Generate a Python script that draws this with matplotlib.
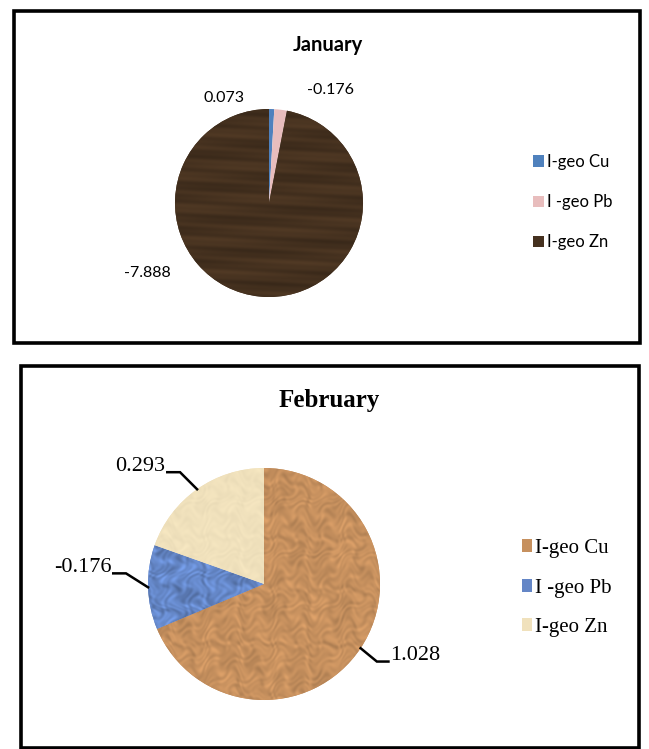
import numpy as np
import matplotlib.pyplot as plt
from matplotlib.colors import to_rgb
from matplotlib.patches import Rectangle

W, H = 649, 749

metals = ["I-geo Cu", "I -geo Pb", "I-geo Zn"]
jan_vals = [0.073, -0.176, -7.888]
feb_vals = [1.028, -0.176, 0.293]

jan_colors = ["#4F81BD", "#E8BDBD", "#45311F"]
feb_colors = ["#C6905E", "#6486C6", "#F0E1BC"]


def px_axes(fig, cx, cy, r):
    # square axes whose [-1,1] box sits on the pie circle (pixel coords from top-left)
    return fig.add_axes([(cx - r) / W, 1 - (cy + r) / H, 2 * r / W, 2 * r / H])


# simple fill textures (grain / mottle), laid over a wedge and clipped to it
yy, xx = np.mgrid[-1:1:300j, -1:1:300j]
grain = (0.5 * np.sin(38 * (yy + 0.08 * xx)) + 0.3 * np.sin(91 * (yy + 0.05 * xx) + 1.3)
         + 0.4 * np.sin(17 * (yy - 0.12 * xx) + 0.7))
wx = xx + 0.08 * np.sin(13.1 * yy + 0.4) + 0.05 * np.sin(27.7 * yy + 1.9)
wy = yy + 0.07 * np.sin(11.3 * xx + 2.2) + 0.05 * np.sin(31.9 * xx + 0.3)
mottle = (np.sin(37.3 * wx) * np.sin(41.9 * wy) + 0.7 * np.sin(23.1 * wx + 19.7 * wy + 1.1)
          + 0.5 * np.sin(61.7 * wx - 53.3 * wy + 0.6) + 0.4 * np.sin(89.3 * wy + 3.7 * np.sin(7 * wx)))


def texture(ax, wedge, color, pat, amp):
    base = np.array(to_rgb(color))
    img = np.clip(base[None, None, :] * (1 + amp * pat[..., None] / np.abs(pat).max()), 0, 1)
    im = ax.imshow(img, extent=(-1, 1, -1, 1), origin="lower", interpolation="bilinear",
                   zorder=wedge.get_zorder() + 0.1)
    im.set_clip_path(wedge)


fig = plt.figure(figsize=(W / 100, H / 100), dpi=100)

# panel frames
fig.patches.append(Rectangle((14 / W, 1 - 343 / H), 626 / W, 332 / H, transform=fig.transFigure,
                             fill=False, lw=2.6, ec="black"))
fig.patches.append(Rectangle((21 / W, 1 - 748 / H), 618 / W, 382 / H, transform=fig.transFigure,
                             fill=False, lw=2.6, ec="black"))

# ---------------- January ----------------
ax1 = px_axes(fig, 269, 203, 94)
w1, _ = ax1.pie(np.abs(jan_vals), colors=jan_colors, startangle=90, counterclock=False,
                radius=1, wedgeprops=dict(linewidth=0))
texture(ax1, w1[2], jan_colors[2], grain, 0.18)
ax1.set_xlim(-1, 1)
ax1.set_ylim(-1, 1)
ax1.set_aspect("auto")
jan_lab_xy = [(-0.48, 1.12), (0.65, 1.20), (-1.29, -0.74)]
for v, (x, y) in zip(jan_vals, jan_lab_xy):
    ax1.text(x, y, f"{v:.3f}", ha="center", va="center", fontsize=11.5,
             family="Lato", clip_on=False)
fig.text(328 / W, 1 - 45 / H, "January", ha="center", va="center", fontsize=14.5,
         fontweight="bold", family="Lato")
ax1.legend(w1, metals, loc="center left", bbox_to_anchor=(518 / W, 1 - 202 / H),
           bbox_transform=fig.transFigure, frameon=False, handlelength=0.65, handleheight=0.65,
           handletextpad=0.2, labelspacing=1.45, prop=dict(family="Lato", size=12))

# ---------------- February ----------------
ax2 = px_axes(fig, 264, 584, 116)
w2, _ = ax2.pie(np.abs(feb_vals), colors=feb_colors, startangle=90, counterclock=False,
                radius=1, wedgeprops=dict(linewidth=0))
texture(ax2, w2[0], feb_colors[0], mottle, 0.13)
texture(ax2, w2[1], feb_colors[1], mottle.T, 0.22)
texture(ax2, w2[2], feb_colors[2], mottle, 0.03)
ax2.set_xlim(-1, 1)
ax2.set_ylim(-1, 1)
ax2.set_aspect("auto")

# leader lines: edge point -> elbow -> short horizontal run -> value text
elbow_off = [(0.14, -0.115), (-0.19, 0.12), (-0.147, 0.147)]
run = [0.10, -0.11, -0.11]
for wdg, v, (ex, ey), dr in zip(w2, feb_vals, elbow_off, run):
    mid = np.deg2rad((wdg.theta1 + wdg.theta2) / 2)
    x0, y0 = np.cos(mid), np.sin(mid)
    x1, y1 = x0 + ex, y0 + ey
    x2 = x1 + dr
    ax2.plot([x0, x1, x2], [y0, y1, y1], color="black", lw=1.8, clip_on=False,
             solid_joinstyle="miter", zorder=5)
    ax2.text(x2 + (0.015 if dr > 0 else -0.015), y1 + 0.05, f"{v:.3f}",
             ha="left" if dr > 0 else "right", va="center", fontsize=16,
             family="Liberation Serif", clip_on=False)

fig.text(329 / W, 1 - 400 / H, "February", ha="center", va="center", fontsize=18,
         fontweight="bold", family="Liberation Serif")
ax2.legend(w2, metals, loc="center left", bbox_to_anchor=(503 / W, 1 - 588 / H),
           bbox_transform=fig.transFigure, frameon=False, handlelength=0.5, handleheight=0.6,
           handletextpad=0.15, labelspacing=0.98, prop=dict(family="Liberation Serif", size=15))

fig.savefig("out.png", dpi=100)
